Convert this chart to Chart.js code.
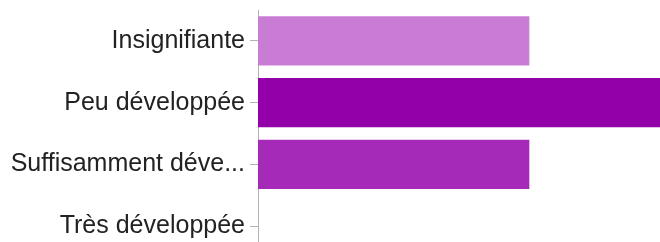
<!DOCTYPE html>
<html>
<head>
<meta charset="utf-8">
<script src="https://cdn.jsdelivr.net/npm/chart.js@4/dist/chart.umd.min.js"></script>
<style>
    html, body { margin: 0; padding: 0; background: #fff; overflow: hidden; }
    #wrap { width: 665px; height: 257px; }
</style>
</head>
<body>
<div id="wrap"><canvas id="answers" width="665" height="257"></canvas></div>
<script>
const categories = ['Insignifiante', 'Peu développée', 'Suffisamment développée', 'Très développée'];
const responses = [2, 3, 2, 0];
const barColors = ['#c97cd4', '#9300a9', '#a62ab8', '#c14fcf'];
const scaleMax = 3;

// long labels get cut like the original
const shorten = (label) => label.length > 20 ? label.slice(0, 17) + '...' : label;

const ctx = document.getElementById('answers').getContext('2d');
new Chart(ctx, {
    type: 'bar',
    data: {
        labels: categories,
        datasets: [{
            data: responses,
            backgroundColor: barColors,
            borderWidth: 0,
            barPercentage: 0.8,
            categoryPercentage: 1
        }]
    },
    options: {
        indexAxis: 'y',
        responsive: false,
        animation: false,
        devicePixelRatio: 1,
        layout: { padding: { top: 10, right: 0, bottom: 0, left: 0 } },
        plugins: {
            legend: { display: false },
            tooltip: { enabled: false }
        },
        scales: {
            x: {
                display: false,
                min: 0,
                max: scaleMax
            },
            y: {
                afterFit: (scale) => {
                    scale.width = 258;
                    scale.paddingTop = 0;
                    scale.paddingBottom = 0;
                },
                border: { display: true, color: '#b3b3b3', width: 1 },
                grid: {
                    offset: false,
                    drawOnChartArea: false,
                    drawTicks: true,
                    tickLength: 8,
                    color: '#b3b3b3'
                },
                ticks: {
                    padding: 5,
                    color: '#222222',
                    font: { family: '"Liberation Sans", Arial, sans-serif', size: 25 },
                    callback: function (value) {
                        return shorten(this.getLabelForValue(value));
                    }
                }
            }
        }
    }
});
</script>
</body>
</html>
